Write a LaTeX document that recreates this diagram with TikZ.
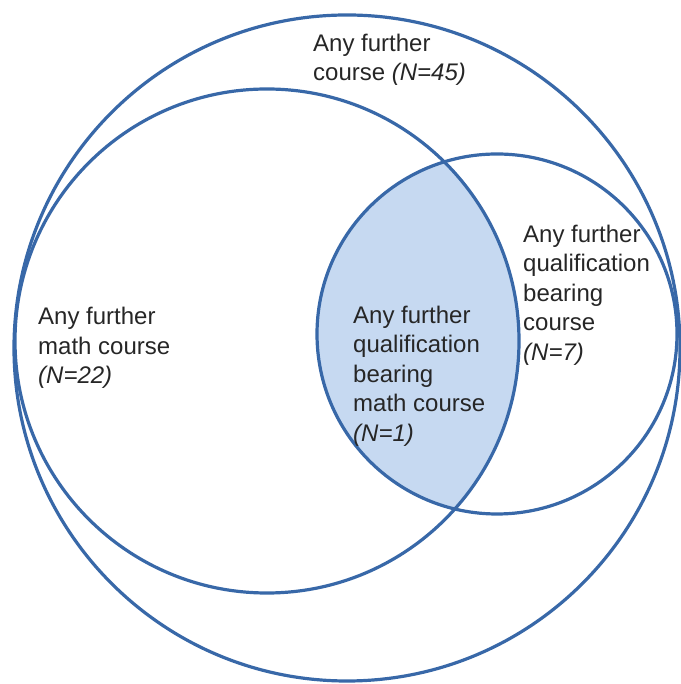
\documentclass[tikz,border=0pt]{standalone}
\usepackage{fontspec}
\setmainfont{Liberation Sans}
\usetikzlibrary{positioning}

\definecolor{vennline}{RGB}{56,104,168}
\definecolor{vennfill}{RGB}{198,217,241}

\begin{document}
\begin{tikzpicture}[x=1pt,y=1pt,
  ring/.style={draw=vennline,line width=3.2pt},
  lbl/.style={inner sep=0pt,align=left,anchor=west,text=black!85,
    font=\fontsize{24}{29.5}\selectfont}]

\useasboundingbox (0,0) rectangle (680,684);

\coordinate (cany) at (347,336);
\coordinate (cmath) at (267,343);
\coordinate (cqual) at (497,350);

% shaded overlap
\begin{scope}
\clip (cmath) circle (252);
\fill[vennfill] (cqual) circle (181);
\end{scope}

\draw[ring] (cany) circle (333);
\draw[ring] (cmath) circle (252);
\draw[ring] (cqual) circle (180);

\node[lbl] (tany) at (313,624) {Any further\\course \textit{(N=45)}};
\node[lbl] (tmath) at (38,336) {Any further\\math course\\\textit{(N=22)}};
\node[lbl] (tboth) at (353,308) {Any further\\qualification\\bearing\\math course\\\textit{(N=1)}};
\node[lbl] (tqual) at (523,389) {Any further\\qualification\\bearing\\course\\\textit{(N=7)}};

\end{tikzpicture}
\end{document}
